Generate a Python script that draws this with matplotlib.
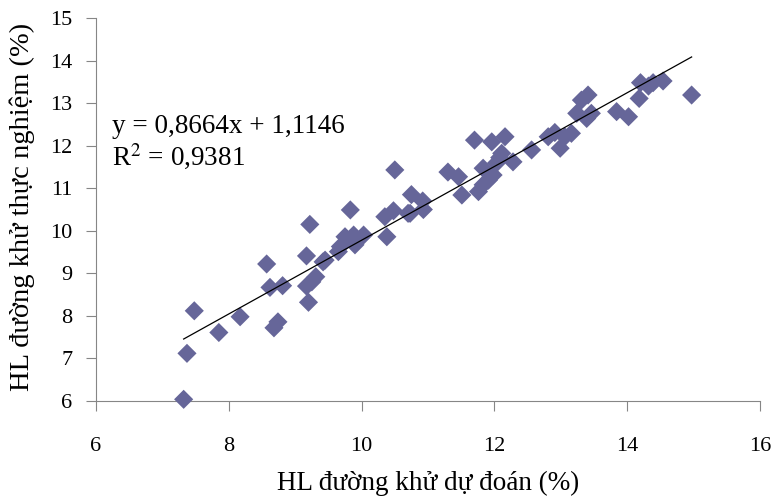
import numpy as np
import matplotlib
matplotlib.use("Agg")
from matplotlib import pyplot as plt

plt.rcParams['font.family'] = ['Liberation Serif', 'DejaVu Serif']

# predicted (x) vs experimental (y) reducing sugar, %
du_doan = [7.32, 7.37, 7.48, 7.85, 8.17, 8.57, 8.62, 8.81, 8.68, 8.74,
           9.20, 9.17, 9.22, 9.17, 9.25, 9.31, 9.42, 9.45, 9.65, 9.68,
           9.75, 9.83, 9.90, 9.88, 10.03, 10.35, 10.38, 10.48, 10.50, 10.73,
           10.75, 10.92, 10.93, 10.70, 11.30, 11.46, 11.51, 11.70, 11.76, 11.83,
           11.91, 11.98, 11.83, 11.96, 12.03, 12.08, 12.11, 12.16, 12.28, 12.56,
           12.81, 12.91, 12.99, 13.06, 13.16, 13.24, 13.31, 13.41, 13.39, 13.46,
           13.84, 14.02, 14.18, 14.20, 14.32, 14.39, 14.54, 14.97]
thuc_nghiem = [6.04, 7.12, 8.12, 7.61, 7.98, 9.22, 8.67, 8.71, 7.72, 7.86,
               8.32, 9.41, 10.15, 8.70, 8.80, 8.92, 9.27, 9.31, 9.51, 9.63,
               9.86, 10.49, 9.67, 9.90, 9.90, 10.33, 9.86, 10.47, 11.43, 10.41,
               10.85, 10.70, 10.50, 10.41, 11.38, 11.27, 10.84, 12.13, 10.92, 11.08,
               11.19, 11.31, 11.47, 12.09, 11.59, 11.72, 11.82, 12.21, 11.62, 11.90,
               12.21, 12.31, 11.94, 12.21, 12.29, 12.76, 13.07, 13.19, 12.64, 12.76,
               12.80, 12.68, 13.11, 13.48, 13.40, 13.48, 13.52, 13.19]
slope, intercept = 0.8664, 1.1146

fig = plt.figure(figsize=(7.73, 4.96), dpi=100)
ax = fig.add_axes([0.1242, 0.1915, 0.8590, 0.7722])

ax.scatter(du_doan, thuc_nghiem, marker='D', s=95, color='#666699',
           edgecolors='none', zorder=3, clip_on=False)
xl = np.array([min(du_doan), max(du_doan)])
ax.plot(xl, slope * xl + intercept, color='black', lw=0.9, zorder=4)

ax.text(6.24, 12.44, "y = 0,8664x + 1,1146", fontsize=19.5, va='center')
ax.text(6.24, 11.73, "R$^2$ = 0,9381", fontsize=19.5, va='center',
        math_fontfamily='stix')

ax.set_xlim(6, 16)
ax.set_ylim(6, 15)
ax.set_xticks(range(6, 17, 2))
ax.set_yticks(range(6, 16))
for s in ['top', 'right']:
    ax.spines[s].set_visible(False)
for s in ['left', 'bottom']:
    ax.spines[s].set_color('#868686')
ax.tick_params(axis='both', colors='#868686', labelcolor='black',
               labelsize=16, length=7, direction='out')
ax.tick_params(axis='x', pad=19)
ax.tick_params(axis='y', pad=10)

ax.set_xlabel("HL đường khử dự đoán (%)", fontsize=19.5, va='center')
ax.set_ylabel("HL đường khử thực nghiệm (%)", fontsize=20.5, va='center')
ax.xaxis.set_label_coords(0.5, -0.214)
ax.yaxis.set_label_coords(-0.111, 0.507)

plt.savefig("out.png", dpi=100)
